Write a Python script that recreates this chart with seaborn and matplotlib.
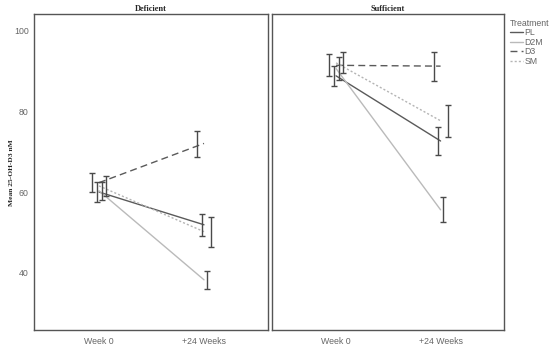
import numpy as np
import pandas as pd
import matplotlib
matplotlib.use("Agg")
import matplotlib.pyplot as plt
import seaborn as sns

# ---- data ----
panels = ["Deficient", "Sufficient"]
times = ["Week 0", "+24 Weeks"]
treatments = ["PL", "D2M", "D3", "SM"]

# means [panel][treatment] -> (week0, week24)
def_mean = {"PL": [60.0, 51.9], "D2M": [60.3, 38.3], "D3": [62.3, 72.0], "SM": [61.5, 50.2]}
def_lo = {"PL": [57.6, 49.1], "D2M": [58.0, 36.0], "D3": [59.9, 68.6], "SM": [59.0, 46.5]}
def_hi = {"PL": [62.5, 54.6], "D2M": [62.5, 40.6], "D3": [64.6, 75.1], "SM": [64.0, 53.9]}

suf_mean = {"PL": [88.7, 72.6], "D2M": [90.5, 55.6], "D3": [91.3, 91.1], "SM": [91.9, 77.6]}
suf_lo = {"PL": [86.3, 69.1], "D2M": [87.7, 52.5], "D3": [88.6, 87.5], "SM": [89.3, 73.7]}
suf_hi = {"PL": [91.1, 76.1], "D2M": [93.4, 58.8], "D3": [94.1, 94.6], "SM": [94.5, 81.5]}

rows = []
for panel, m, lo, hi in [("Deficient", def_mean, def_lo, def_hi),
                         ("Sufficient", suf_mean, suf_lo, suf_hi)]:
    for t in treatments:
        for i, tm in enumerate(times):
            rows.append(dict(panel=panel, Treatment=t, time=tm, x=i,
                             mean=m[t][i], lo=lo[t][i], hi=hi[t][i]))
df = pd.DataFrame(rows)

# ---- style ----
sns.set_style("white")
plt.rcParams["font.family"] = ["Liberation Sans", "DejaVu Sans"]

palette = {"PL": "#5a5a5a", "D2M": "#bababa", "D3": "#5a5a5a", "SM": "#b4b4b4"}
dashes = {"PL": "", "D2M": "", "D3": (5, 3), "SM": (1.5, 1.5)}
bar_offset = {"D3": -0.065, "PL": -0.02, "D2M": 0.025, "SM": 0.07}
txt_gray = "#666666"

fig = plt.figure(figsize=(5.5, 3.46), dpi=100)
ax1 = fig.add_axes([0.0624, 0.0462, 0.4244, 0.9124])
ax2 = fig.add_axes([0.494, 0.0462, 0.4224, 0.9124], sharey=ax1)

for ax, panel in [(ax1, "Deficient"), (ax2, "Sufficient")]:
    sub = df[df.panel == panel]
    sns.lineplot(data=sub, x="x", y="mean", hue="Treatment", style="Treatment",
                 hue_order=treatments, style_order=treatments,
                 palette=palette, dashes=dashes, linewidth=1.0, ax=ax,
                 legend=(panel == "Sufficient"))
    for t in treatments:
        s = sub[sub.Treatment == t]
        ax.errorbar(s.x + bar_offset[t], s["mean"],
                    yerr=[s["mean"] - s.lo, s.hi - s["mean"]],
                    fmt="none", ecolor="#4a4a4a", elinewidth=1.0,
                    capsize=2.2, capthick=1.0)
    ax.set_xlim(-0.616, 1.607)
    ax.set_ylim(25.9, 103.9)
    ax.set_xticks([0, 1])
    ax.set_xticklabels(times)
    ax.set_xlabel("")
    ax.set_ylabel("")
    ax.set_title(panel, fontsize=6, fontweight="bold", family="Liberation Serif", pad=2.5)
    for sp in ax.spines.values():
        sp.set_color("#555555")
        sp.set_linewidth(1.0)
    ax.tick_params(axis="x", length=3, width=0.8, color="#555555",
                   labelsize=6.3, labelcolor=txt_gray, pad=2)

ax1.set_yticks([40, 60, 80, 100])
ax1.tick_params(axis="y", length=3, width=0.8, color="#555555",
                labelsize=6.3, labelcolor=txt_gray, pad=1)
ax1.set_ylabel("Mean 25-OH-D3 nM", fontsize=5.4, fontweight="bold",
               family="Liberation Serif")
ax1.yaxis.set_label_coords(-0.087, 0.5)
ax2.tick_params(axis="y", left=False, labelleft=False)

leg = ax2.get_legend()
handles, labels = ax2.get_legend_handles_labels()
leg.remove()
fig.legend(handles, labels, title="Treatment", loc="upper left",
           bbox_to_anchor=(0.927, 0.945), frameon=False, fontsize=6.3,
           title_fontsize=6.3, handlelength=1.5, handletextpad=0.2,
           labelspacing=0.05, borderaxespad=0, borderpad=0, alignment="left",
           labelcolor=txt_gray)
leg2 = fig.legends[0]
leg2.get_title().set_color(txt_gray)

fig.savefig("out.png", dpi=100)
